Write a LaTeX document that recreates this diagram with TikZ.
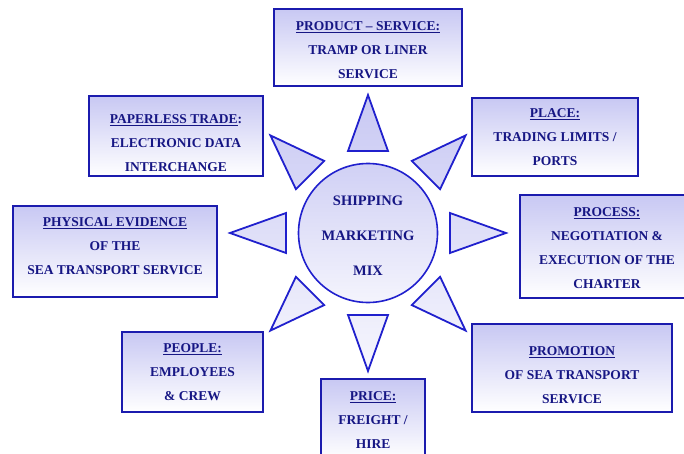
\documentclass[tikz,border=0pt]{standalone}
\usepackage{fontspec}
\setmainfont{Liberation Serif}

\definecolor{mixnavy}{RGB}{22,22,132}
\definecolor{mixblue}{RGB}{32,32,205}
\definecolor{mixlav}{RGB}{200,200,243}

\newcommand{\mixhead}[1]{\underline{#1}}

\tikzset{
  mixbox/.style={draw=mixblue!85!black, line width=1.2pt, top color=mixlav, bottom color=white, inner sep=0pt},
  mixtext/.style={align=center, text=mixnavy, inner sep=0pt, font=\fontsize{13.5}{24}\selectfont\bfseries},
  mixray/.style={draw=mixblue, line width=1.8pt, line join=miter}
}

\begin{document}
\begin{tikzpicture}[x=1pt, y=1pt]
        % Frame
        \useasboundingbox (0,0) rectangle (684,453);
        \clip (0,0) rectangle (684,453);

        % Centre
        \node[circle, draw=mixblue, line width=1.6pt, minimum size=139pt, inner sep=0pt,
          top color=mixlav!85!white, bottom color=mixlav!20!white] (mix) at (368,220) {};
        \node[mixtext, font=\fontsize{14.5}{35}\selectfont\bfseries] (mixlabel) at ([yshift=-3pt]mix.center)
          {SHIPPING\\MARKETING\\MIX};

        % Rays
        \foreach \ang/\hi/\lo in {90/100/83, 45/88/71, 135/88/71, 0/64/51, 180/64/51, -45/44/27, 225/44/27, 270/32/15}
          \draw[mixray, top color=mixlav!\hi!white, bottom color=mixlav!\lo!white]
            ([shift={(\ang:138)}]mix.center) -- ([shift={(\ang+13.7:84.4)}]mix.center)
            -- ([shift={(\ang-13.7:84.4)}]mix.center) -- cycle;

        % Boxes
        \node[mixbox, minimum width=188pt, minimum height=77pt] (productbox) at (368,405.5) {};
        \node[mixtext] (product) at ([yshift=-2.5pt]productbox.center)
          {\mixhead{PRODUCT -- SERVICE:}\\TRAMP OR LINER\\SERVICE};

        \node[mixbox, minimum width=174pt, minimum height=80pt] (paperlessbox) at (176,317) {};
        \node[mixtext] (paperless) at ([yshift=-7pt]paperlessbox.center)
          {\mixhead{PAPERLESS TRADE}:\\ELECTRONIC DATA\\INTERCHANGE};

        \node[mixbox, minimum width=166pt, minimum height=78pt] (placebox) at (555,316) {};
        \node[mixtext] (place) at (placebox.center)
          {\mixhead{PLACE:}\\TRADING LIMITS /\\PORTS};

        \node[mixbox, minimum width=204pt, minimum height=91pt] (evidencebox) at (115,201.5) {};
        \node[mixtext] (evidence) at ([yshift=5pt]evidencebox.center)
          {\mixhead{PHYSICAL EVIDENCE}\\OF THE\\SEA TRANSPORT SERVICE};

        \node[mixbox, minimum width=174pt, minimum height=103pt] (processbox) at (607,206.5) {};
        \node[mixtext] (process) at ([yshift=-1.5pt]processbox.center)
          {\mixhead{PROCESS:}\\NEGOTIATION \&\\EXECUTION OF THE\\CHARTER};

        \node[mixbox, minimum width=141pt, minimum height=80pt] (peoplebox) at (192.5,81) {};
        \node[mixtext] (people) at (peoplebox.center)
          {\mixhead{PEOPLE:}\\EMPLOYEES\\\& CREW};

        \node[mixbox, minimum width=200pt, minimum height=88pt] (promotionbox) at (572,85) {};
        \node[mixtext] (promotion) at ([yshift=-7pt]promotionbox.center)
          {\mixhead{PROMOTION}\\OF SEA TRANSPORT\\SERVICE};

        \node[mixbox, minimum width=104pt, minimum height=80pt] (pricebox) at (373,34) {};
        \node[mixtext] (price) at ([yshift=-1.5pt]pricebox.center)
          {\mixhead{PRICE:}\\FREIGHT /\\HIRE};

\end{tikzpicture}
\end{document}
